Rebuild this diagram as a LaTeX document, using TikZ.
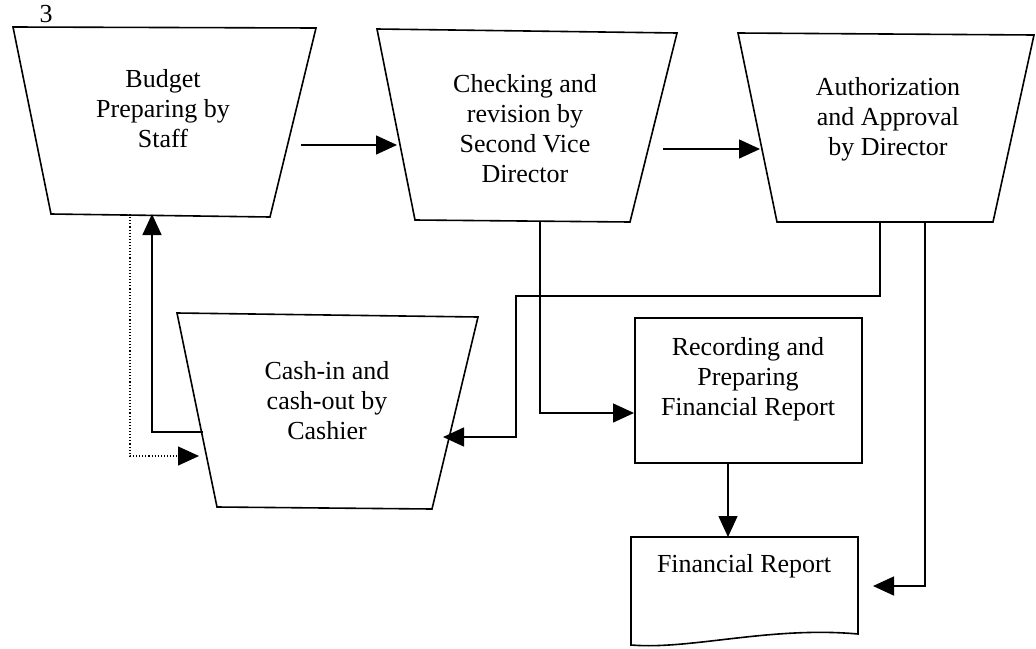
\documentclass[tikz,border=0pt]{standalone}
\usepackage{fontspec}
\setmainfont{Liberation Serif}
\usetikzlibrary{arrows.meta}
\begin{document}
\begin{tikzpicture}[x=1pt,y=-1pt,
  shapeline/.style={line width=1.6pt, line join=miter},
  txt/.style={font=\fontsize{26}{30}\selectfont, align=center, inner sep=0pt},
  flow/.style={line width=1.4pt, -{Triangle[length=21pt,width=19pt]}},
  dotflow/.style={line width=1.1pt, dotted, -{Triangle[length=21pt,width=19pt]}}]
\useasboundingbox[fill=white] (0,0) rectangle (1036,648);

% page number
\node[txt, anchor=base] (pg) at (46,22) {3};

% process boxes (inverted trapezia)
\draw[shapeline] (13,27) -- (316,28) -- (270,217) -- (51,214) -- cycle;
\node[txt] (budget) at (163,109) {Budget\\Preparing by\\Staff};

\draw[shapeline] (377,29) -- (677,33) -- (630,222) -- (415,220) -- cycle;
\node[txt] (check) at (525,129) {Checking and\\revision by\\Second Vice\\Director};

\draw[shapeline] (738,33) -- (1034,35) -- (993,222) -- (777,222) -- cycle;
\node[txt] (auth) at (888,119) {Authorization\\and Approval\\by Director};

\draw[shapeline] (177,313) -- (478,317) -- (432,509) -- (217,507) -- cycle;
\node[txt] (cash) at (327,401) {Cash-in and\\cash-out by\\Cashier};

% recording box
\draw[shapeline] (635,318) rectangle (862,463);
\node[txt] (rec) at (748,379) {Recording and\\Preparing\\Financial Report};

% document
\draw[shapeline] (631,537) -- (631,645) .. controls (690,650) and (770,626) .. (858,634) -- (858,537) -- cycle;
\node[txt, anchor=base] (doc) at (744,572) {Financial Report};

% connector anchors on the shape borders
\coordinate (budgetR) at (301,145);
\coordinate (checkL)  at (397,145);
\coordinate (checkR)  at (663,149);
\coordinate (authL)   at (760,149);
\coordinate (cashL)   at (203,432);
\coordinate (budgetB) at (152,214);
\coordinate (budgetB2) at (130,214);
\coordinate (cashL2)  at (199,456);
\coordinate (checkB)  at (540,221);
\coordinate (recL)    at (634,413);
\coordinate (authB1)  at (880,222);
\coordinate (cashR)   at (443,437);
\coordinate (authB2)  at (925,222);
\coordinate (docR)    at (873,586);
\coordinate (recB)    at (728,463);
\coordinate (docT)    at (728,537);

% connectors
\draw[flow] (budgetR) -- (checkL);
\draw[flow] (checkR) -- (authL);
\draw[flow] (cashL) -| (budgetB);
\draw[dotflow] (budgetB2) |- (cashL2);
\draw[flow] (checkB) |- (recL);
\draw[flow] (authB1) -- (880,296) -- (516,296) -- (516,437) -- (cashR);
\draw[flow] (authB2) |- (docR);
\draw[flow] (recB) -- (docT);
\end{tikzpicture}
\end{document}
